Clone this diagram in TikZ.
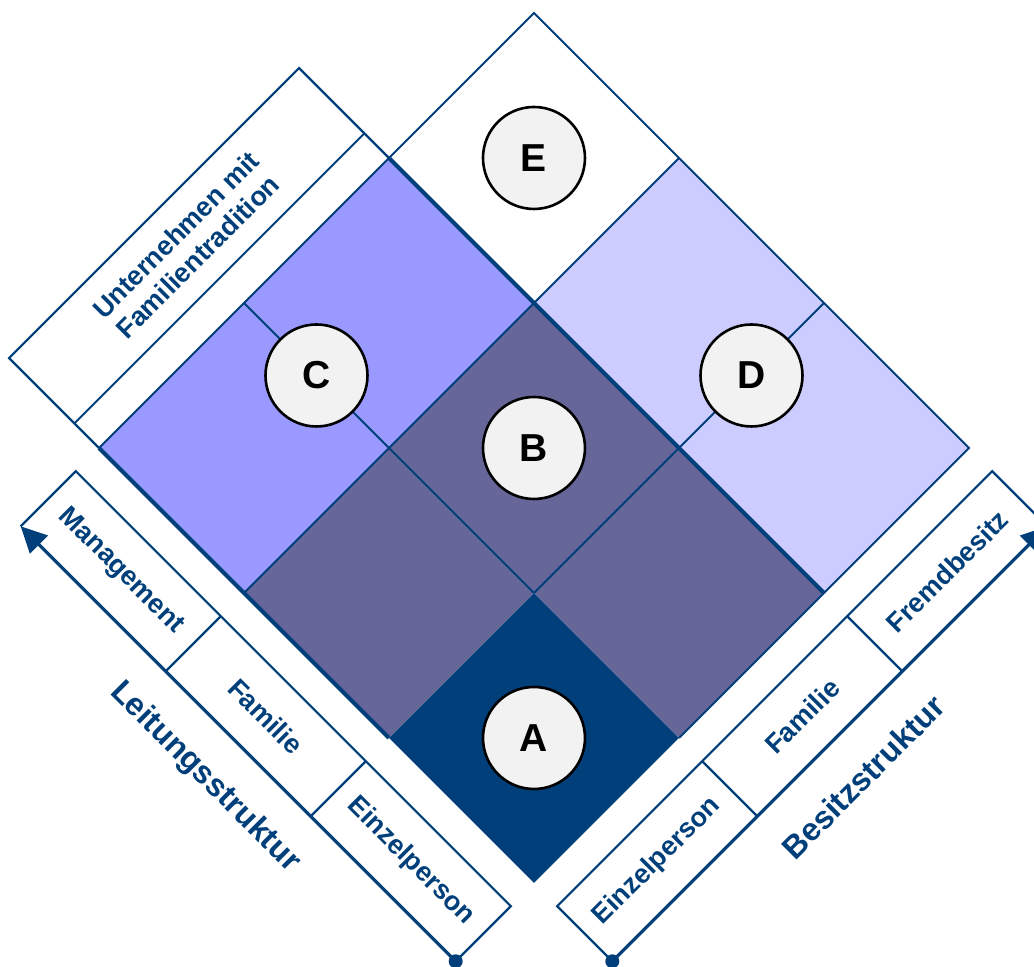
\documentclass[tikz,border=0pt]{standalone}
\usepackage{fontspec}
\setmainfont{Liberation Sans}
\usetikzlibrary{arrows.meta}

\definecolor{navy}{RGB}{0,63,122}
\definecolor{cellA}{RGB}{0,63,122}
\definecolor{cellB}{RGB}{102,102,153}
\definecolor{cellC}{RGB}{153,153,255}
\definecolor{cellD}{RGB}{204,204,255}
\definecolor{disc}{RGB}{242,242,242}

\tikzset{
  gridline/.style={navy,line width=1pt},
  boldline/.style={navy,line width=2pt},
  boxline/.style={navy,line width=1.1pt},
  axisarrow/.style={navy,line width=1.6pt,-{Triangle[length=13pt,width=12.5pt]}},
  letter/.style={circle,draw=black,line width=1.3pt,fill=disc,minimum size=51pt,
    inner sep=0pt,font=\fontsize{19.5}{20}\selectfont\bfseries},
  fieldtext/.style={navy,align=center,font=\fontsize{13.5}{15.5}\selectfont\bfseries},
  axislabel/.style={navy,font=\fontsize{16}{18}\selectfont\bfseries}
}

\begin{document}
\begin{tikzpicture}[x={(-72.5pt,72.5pt)},y={(72.5pt,72.5pt)}]
\useasboundingbox (-267pt,-42pt) rectangle (250pt,441.5pt);

% fields of the matrix
\fill[cellA] (0,0) -- (1,0) -- (1,1) -- (0,1) -- cycle;
\fill[cellB] (1,0) -- (2,0) -- (2,2) -- (0,2) -- (0,1) -- (1,1) -- cycle;
\fill[cellC] (2,0) -- (3,0) -- (3,2) -- (2,2) -- cycle;
\fill[cellD] (0,2) -- (2,2) -- (2,3) -- (0,3) -- cycle;

\draw[gridline] (1,1) -- (1,3);
\draw[gridline] (2,0) -- (2,3);
\draw[gridline] (1,1) -- (3,1);
\draw[gridline] (3,0) -- (3,3) -- (0,3) -- (0,1);
\draw[boldline] (0,2) -- (3,2);
\draw[boldline] (1,0) -- (3,0);

% band on top
\draw[boxline] (3,0) -- (3.62,0) -- (3.62,2) -- (3,2);
\draw[gridline] (3.17,0) -- (3.17,2);
\node[fieldtext,rotate=45] (tradition) at (3.395,1) {Unternehmen mit\\Familientradition};

% Leitungsstruktur
\coordinate (lstart) at (0,-0.54);
\coordinate (lend) at (3,-0.54);
\draw[boxline] (0,-0.54) -- (0,-0.16) -- (3,-0.16) -- (3,-0.54);
\draw[boxline] (1,-0.16) -- (1,-0.54);
\draw[boxline] (2,-0.16) -- (2,-0.54);
\draw[axisarrow] (lstart) -- (lend);
\fill[navy] (lstart) circle (3.5pt);
\node[fieldtext,rotate=-45] (leinzel) at (0.5,-0.35) {Einzelperson};
\node[fieldtext,rotate=-45] (lfamilie) at (1.5,-0.35) {Familie};
\node[fieldtext,rotate=-45] (lmanagement) at (2.5,-0.35) {Management};
\node[axislabel,rotate=-45] (leitung) at (1.5,-0.77) {Leitungsstruktur};

% Besitzstruktur
\coordinate (bstart) at (-0.54,0);
\coordinate (bend) at (-0.54,3);
\draw[boxline] (-0.54,0) -- (-0.16,0) -- (-0.16,3) -- (-0.54,3);
\draw[boxline] (-0.16,1) -- (-0.54,1);
\draw[boxline] (-0.16,2) -- (-0.54,2);
\draw[axisarrow] (bstart) -- (bend);
\fill[navy] (bstart) circle (3.5pt);
\node[fieldtext,rotate=45] (beinzel) at (-0.35,0.5) {Einzelperson};
\node[fieldtext,rotate=45] (bfamilie) at (-0.35,1.5) {Familie};
\node[fieldtext,rotate=45] (bfremd) at (-0.35,2.5) {Fremdbesitz};
\node[axislabel,rotate=45] (besitz) at (-0.77,1.5) {Besitzstruktur};

% types
\node[letter] (A) at (0.5,0.5) {A};
\node[letter] (B) at (1.5,1.5) {B};
\node[letter] (C) at (2.5,1) {C};
\node[letter] (D) at (1,2.5) {D};
\node[letter] (E) at (2.5,2.5) {E};
\end{tikzpicture}
\end{document}
